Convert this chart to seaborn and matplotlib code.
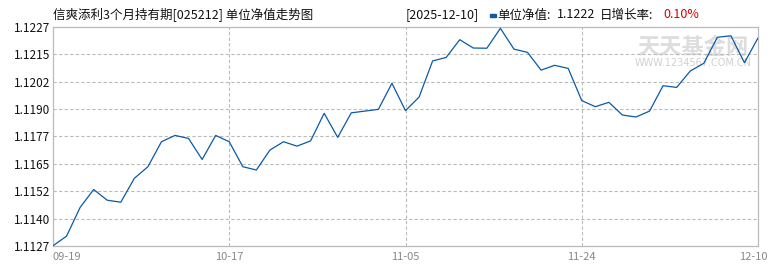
import matplotlib
matplotlib.use("Agg")
import matplotlib.pyplot as plt
import matplotlib.transforms as mtransforms
import seaborn as sns
import numpy as np
import pandas as pd

title = "信爽添利3个月持有期[025212] 单位净值走势图"
latest_date = "2025-12-10"
latest_nav = "1.1222"
latest_growth = "0.10%"

nav = [1.11271, 1.11315, 1.11446, 1.11528, 1.11479, 1.11470, 1.11579, 1.11632,
       1.11746, 1.11775, 1.11761, 1.11665, 1.11775, 1.11746, 1.11632, 1.11617,
       1.11708, 1.11746, 1.11726, 1.11750, 1.11876, 1.11766, 1.11878, 1.11886,
       1.11894, 1.12013, 1.11888, 1.11950, 1.12115, 1.12131, 1.12212, 1.12174,
       1.12173, 1.12264, 1.12169, 1.12154, 1.12073, 1.12095, 1.12081, 1.11934,
       1.11906, 1.11926, 1.11868, 1.11859, 1.11886, 1.12002, 1.11994, 1.12069,
       1.12104, 1.12223, 1.12230, 1.12107, 1.12220]
tick_pos = [0, 13, 26, 39, 52]
tick_labels = ["09-19", "10-17", "11-05", "11-24", "12-10"]
y_min, y_max = 1.1127, 1.1227
y_tick_labels = ["1.1127", "1.1140", "1.1152", "1.1165", "1.1177",
                 "1.1190", "1.1202", "1.1215", "1.1227"]

sns.set_style("white")
plt.rcParams['font.family'] = ['Noto Sans CJK SC', 'DejaVu Sans']

df = pd.DataFrame({"idx": np.arange(len(nav)), "nav": nav})

fig = plt.figure(figsize=(7.7, 2.7), dpi=100)
ax = fig.add_axes([53/770, 1 - 246/270, (758-53)/770, (246-27)/270])

grid_c = "#bbbbbb"
yt = np.linspace(y_min, y_max, len(y_tick_labels))
for v in yt[1:-1]:
    ax.axhline(v, color=grid_c, lw=0.8, ls=(0, (3, 2)), zorder=1)
for p in tick_pos[1:-1]:
    ax.axvline(p, color=grid_c, lw=0.8, ls=(0, (3, 2)), zorder=1)

# watermark
ax.text(0.908, 0.905, "天天基金网", transform=ax.transAxes, ha="center", va="center",
        fontsize=16, color="#dddddd", fontweight="bold", zorder=0)
ax.text(0.908, 0.835, "WWW.1234567.COM.CN", transform=ax.transAxes, ha="center",
        va="center", fontsize=7, color="#d0d0d0", zorder=0, family="DejaVu Sans")

sns.lineplot(data=df, x="idx", y="nav", ax=ax, color="#0a5aa8", lw=0.9, zorder=3)

ax.set_xlim(0, len(nav) - 1)
ax.set_ylim(y_min, y_max)
ax.set_yticks(yt)
ax.set_yticklabels(y_tick_labels, fontsize=8.5, color="#111111")
ax.set_xticks(tick_pos)
ax.set_xticklabels(tick_labels, fontsize=8, color="#888888")
ax.tick_params(axis="both", length=0, pad=2)
ax.tick_params(axis="x", pad=4)
ax.set_xlabel("")
ax.set_ylabel("")
for s in ax.spines.values():
    s.set_color(grid_c)
    s.set_linewidth(0.9)

xl = ax.get_xticklabels()
xl[0].set_ha("left")
xl[-1].set_ha("right")
xl[-1].set_transform(xl[-1].get_transform() + mtransforms.ScaledTranslation(10/100, 0, fig.dpi_scale_trans))

ty = 1 - 15/270
fig.text(53/770, ty, title, fontsize=9, va="center", ha="left", color="#111111")
fig.text(406/770, ty, f"[{latest_date}]", fontsize=9, va="center", ha="left", color="#111111")
fig.patches.append(matplotlib.patches.Rectangle((490/770, 1 - 17/270), 6/770, 3/270,
                   transform=fig.transFigure, color="#0a5aa8", figure=fig))
fig.text(497/770, ty, "单位净值:", fontsize=9, va="center", ha="left", color="#111111")
fig.text(557/770, ty, latest_nav, fontsize=9, va="center", ha="left", color="#111111")
fig.text(600/770, ty, "日增长率:", fontsize=9, va="center", ha="left", color="#111111")
fig.text(663/770, ty, latest_growth, fontsize=9, va="center", ha="left", color="#dd0000")

fig.savefig("out.png", dpi=100)
